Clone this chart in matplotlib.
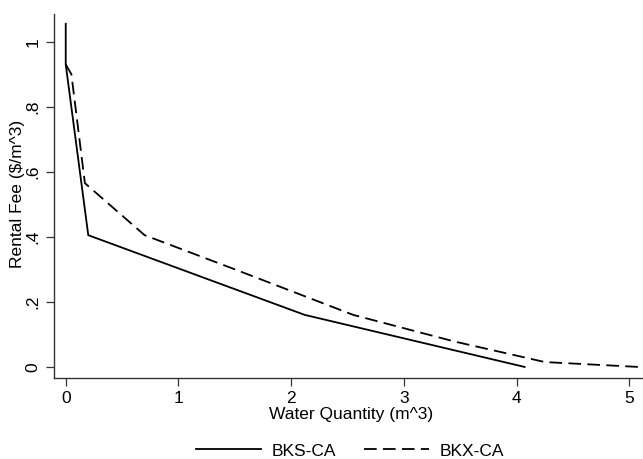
import matplotlib
matplotlib.use("Agg")
from matplotlib import pyplot as plt

plt.rcParams['font.family'] = ['Liberation Sans', 'DejaVu Sans']

# BKS-CA (solid)
bks_x = [0.0, 0.0, 0.2, 2.12, 4.07]
bks_y = [1.055, 0.93, 0.405, 0.16, 0.0]

# BKX-CA (dashed)
bkx_x = [0.0, 0.05, 0.17, 0.70, 1.50, 2.55, 3.45, 4.25, 5.08]
bkx_y = [0.93, 0.90, 0.565, 0.405, 0.30, 0.16, 0.078, 0.015, 0.0]

xticks = [0, 1, 2, 3, 4, 5]
yticks = [0, 0.2, 0.4, 0.6, 0.8, 1.0]
ytick_labels = ['0', '.2', '.4', '.6', '.8', '1']

fs = 12.5

fig = plt.figure(figsize=(6.43, 4.59), dpi=100)
ax = fig.add_axes([54 / 643, 1 - 378 / 459, 1 - 54 / 643, (378 - 14) / 459])

ax.plot(bks_x, bks_y, color='black', lw=1.3, label='BKS-CA')
ax.plot(bkx_x, bkx_y, color='black', lw=1.3, dashes=(7, 3.5), label='BKX-CA')

ax.set_xlim(-0.104, 5.12)
ax.set_ylim(-0.034, 1.085)

ax.set_xticks(xticks)
ax.set_yticks(yticks)
ax.set_yticklabels(ytick_labels, rotation=90, va='center')
ax.tick_params(axis='both', length=5.5, width=0.9, color='#333333',
               labelsize=fs, pad=4)

for side in ['top', 'right']:
    ax.spines[side].set_visible(False)
for side in ['left', 'bottom']:
    ax.spines[side].set_color('#333333')
    ax.spines[side].set_linewidth(1.0)

ax.set_xlabel('Water Quantity (m^3)', fontsize=fs)
ax.xaxis.set_label_coords((351 - 54) / 589, 1 - (414 - 14) / 364)
ax.set_ylabel('Rental Fee ($/m^3)', fontsize=fs)
ax.yaxis.set_label_coords((18 - 54) / 589, 1 - (194 - 14) / 364)
ax.yaxis.label.set_va('center')
ax.xaxis.label.set_va('center')

fig.legend(loc='center', bbox_to_anchor=(350 / 643, 1 - 451 / 459), ncol=2,
           frameon=False, fontsize=fs, handlelength=3.75, columnspacing=1.6,
           handletextpad=0.6)

fig.savefig('out.png', dpi=100, facecolor='white')
